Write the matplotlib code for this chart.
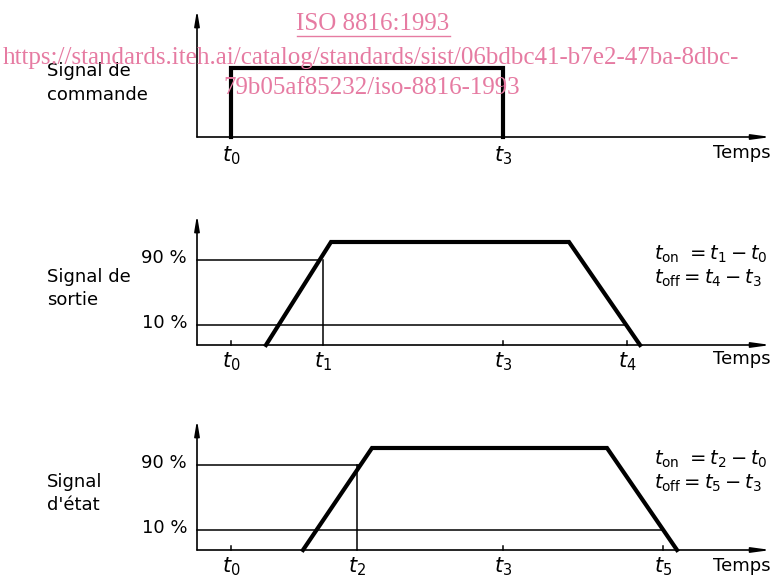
import matplotlib
matplotlib.use("Agg")
import matplotlib.pyplot as plt

# ---- data (schematic positions, in drawing units = pixels) ----
axis_x = 197
t_names = ["t0", "t1", "t2", "t3", "t4", "t5"]
t_pos = [231, 323, 357, 503, 627, 663]
T = dict(zip(t_names, t_pos))

# panel 1: command signal
p1_base, p1_top, p1_high = 137, 10, 68
# panel 2: output signal
p2_base, p2_top = 345, 215
p2_levels = [260, 325]          # 90 %, 10 %
p2_shape_x = [266, 331, 569, 640]
p2_shape_y = [345, 242, 242, 345]
# panel 3: state signal
p3_base, p3_top = 550, 420
p3_levels = [465, 530]
p3_shape_x = [303, 372, 607, 677]
p3_shape_y = [550, 448, 448, 550]

level_labels = ["90 %", "10 %"]
panel_titles = ["Signal de\ncommande", "Signal de\nsortie", "Signal\nd'état"]
formulas2 = [r"$t_{\mathrm{on}}\ =t_1-t_0$", r"$t_{\mathrm{off}}=t_4-t_3$"]
formulas3 = [r"$t_{\mathrm{on}}\ =t_2-t_0$", r"$t_{\mathrm{off}}=t_5-t_3$"]

plt.rcParams['mathtext.fontset'] = 'dejavusans'
fig = plt.figure(figsize=(7.74, 5.75), dpi=100)
ax = fig.add_axes([0, 0, 1, 1])
ax.set_xlim(0, 774)
ax.set_ylim(575, 0)
ax.axis('off')

THICK = 3.0
THIN = 1.1
AX = 1.2
FS = 13

def axes_arrows(base, top):
    ax.annotate('', xy=(axis_x, top), xytext=(axis_x, base),
                arrowprops=dict(arrowstyle='-|>,head_width=0.15,head_length=0.9',
                                lw=AX, color='black', shrinkA=0, shrinkB=0))
    ax.annotate('', xy=(771, base), xytext=(axis_x, base),
                arrowprops=dict(arrowstyle='-|>,head_width=0.15,head_length=1.1',
                                lw=AX, color='black', shrinkA=0, shrinkB=0))

def tlabel(name, base, dy=20):
    ax.text(T[name], base + dy, r"$t_{%s}$" % name[1], fontsize=15,
            ha='center', va='center', color='black')

# ---- panel 1 ----
axes_arrows(p1_base, p1_top)
ax.plot([T["t0"], T["t0"], T["t3"], T["t3"]],
        [p1_base, p1_high, p1_high, p1_base], color='black', lw=THICK,
        solid_joinstyle='miter')
tlabel("t0", p1_base, dy=19)
tlabel("t3", p1_base, dy=19)
ax.text(713, 153, "Temps", fontsize=FS, ha='left', va='center')
ax.text(47, 83, panel_titles[0], fontsize=FS, ha='left', va='center',
        linespacing=1.4)

def trapezoid_panel(base, top, levels, sx, sy, tcross, tfall, formulas, title, labels_t, temps_y):
    axes_arrows(base, top)
    def x_at(y, x0, y0, x1, y1):
        return x0 + (y - y0) * (x1 - x0) / (y1 - y0)
    x90 = x_at(levels[0], sx[0], sy[0], sx[1], sy[1])
    x10 = x_at(levels[1], sx[2], sy[2], sx[3], sy[3])
    ax.plot([axis_x, x90], [levels[0]] * 2, color='black', lw=THIN)
    ax.plot([axis_x, x10], [levels[1]] * 2, color='black', lw=THIN)
    ax.plot([T[tcross], T[tcross]], [levels[0], base], color='black', lw=THIN)
    ax.plot(sx, sy, color='black', lw=THICK, solid_joinstyle='miter')
    for n in ["t0", "t3"]:
        ax.plot([T[n], T[n]], [base - 4, base], color='black', lw=THIN)
    ax.plot([T[tfall], T[tfall]], [base - 4, base], color='black', lw=THIN)
    for n in labels_t:
        tlabel(n, base, dy=17)
    ax.text(713, temps_y, "Temps", fontsize=FS, ha='left', va='center')
    for lab, y in zip(level_labels, levels):
        ax.text(187, y - 2, lab, fontsize=FS, ha='right', va='center')
    ax.text(47, (levels[0] + levels[1]) / 2 - 4, title, fontsize=FS,
            ha='left', va='center', linespacing=1.4)
    ax.text(654, levels[0] - 6, formulas[0], fontsize=14, ha='left', va='center')
    ax.text(654, levels[0] + 18, formulas[1], fontsize=14, ha='left', va='center')

trapezoid_panel(p2_base, p2_top, p2_levels, p2_shape_x, p2_shape_y, "t1", "t4",
                formulas2, panel_titles[1], ["t0", "t1", "t3", "t4"], 359)
trapezoid_panel(p3_base, p3_top, p3_levels, p3_shape_x, p3_shape_y, "t2", "t5",
                formulas3, panel_titles[2], ["t0", "t2", "t3", "t5"], 566)

# ---- watermark ----
pink = '#e67ba2'
ax.text(373, 24, "ISO 8816:1993", fontsize=18, family='Liberation Serif',
        color=pink, ha='center', va='center')
ax.plot([297, 450], [36, 36], color=pink, lw=1.0)
ax.text(371, 58, "https://standards.iteh.ai/catalog/standards/sist/06bdbc41-b7e2-47ba-8dbc-",
        fontsize=18, family='Liberation Serif', color=pink, ha='center', va='center')
ax.text(372, 88, "79b05af85232/iso-8816-1993", fontsize=18, family='Liberation Serif',
        color=pink, ha='center', va='center')

fig.savefig("out.png", dpi=100)
